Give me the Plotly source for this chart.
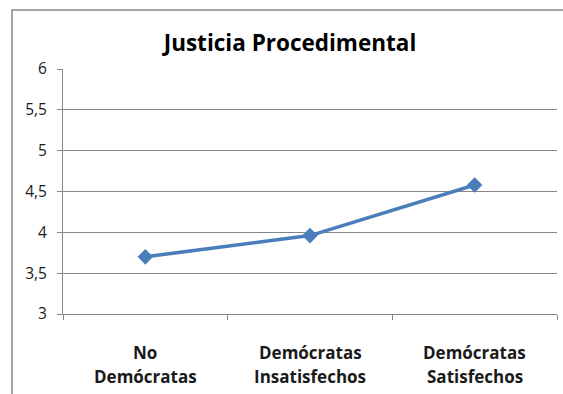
import plotly.graph_objects as go

categories = ["No Demócratas", "Demócratas Insatisfechos", "Demócratas Satisfechos"]
category_lines = [["No", "Demócratas"], ["Demócratas", "Insatisfechos"], ["Demócratas", "Satisfechos"]]
values = [3.70, 3.96, 4.58]
y_ticks = [3, 3.5, 4, 4.5, 5, 5.5, 6]
y_tick_labels = ["3", "3,5", "4", "4,5", "5", "5,5", "6"]

W, H = 563, 394
L, R, T, B = 63, 6, 69, 80
pw, ph = W - L - R, H - T - B

def px_x(p):
    return (p - L) / pw

def px_y(p):
    return 1 - (p - T) / ph

fig = go.Figure()
fig.add_trace(go.Scatter(
    x=categories, y=values, mode="lines+markers",
    line=dict(color="#4A7EBB", width=3.5),
    marker=dict(symbol="diamond", size=12, color="#4A7EBB"),
    showlegend=False, hoverinfo="skip",
))

annotations = []
for cat, lines in zip(categories, category_lines):
    for i, txt in enumerate(lines):
        annotations.append(dict(
            x=cat, xref="x", y=px_y(352 + 24 * i), yref="paper",
            text=f"<b>{txt}</b>", showarrow=False, xanchor="center", yanchor="middle",
            font=dict(size=17, color="#1a1a1a", family="Open Sans, sans-serif"),
        ))

fig.update_layout(
    width=W, height=H,
    margin=dict(l=L, r=R, t=T, b=B),
    paper_bgcolor="white", plot_bgcolor="white",
    font=dict(family="Open Sans, Liberation Sans, sans-serif", color="#1a1a1a"),
    title=dict(text="<b>Justicia Procedimental</b>", x=px_x(290), xref="paper",
               xanchor="center", y=1 - 43 / H, yanchor="middle",
               font=dict(size=22.5, color="#000000")),
    xaxis=dict(
        type="category", range=[-0.5, 2.5], tickson="boundaries",
        ticks="outside", ticklen=5, tickcolor="#868686",
        showline=True, linecolor="#868686", linewidth=1,
        showgrid=False, zeroline=False, showticklabels=False,
    ),
    yaxis=dict(
        range=[3, 6], tickvals=y_ticks, ticktext=y_tick_labels,
        ticks="outside", ticklen=5, tickcolor="#868686",
        showline=True, linecolor="#868686", linewidth=1,
        showgrid=True, gridcolor="#868686", gridwidth=1,
        zeroline=False, ticklabelstandoff=7,
        tickfont=dict(size=15.5, color="#1a1a1a"),
    ),
    annotations=annotations,
    shapes=[dict(type="rect", xref="paper", yref="paper",
                 x0=px_x(12), x1=px_x(572), y0=px_y(402), y1=px_y(10),
                 line=dict(color="#888888", width=1.5), layer="below")],
)

fig.write_html("out.html")
